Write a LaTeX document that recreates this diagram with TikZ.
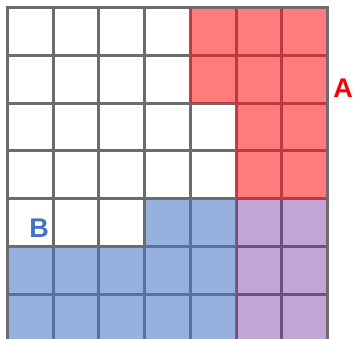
\documentclass[tikz,border=0pt]{standalone}
\usepackage{fontspec}
\setmainfont{Liberation Sans}
\usepackage{xcolor}
\usetikzlibrary{positioning}
\definecolor{gridgray}{HTML}{6C6C6C}
\definecolor{redfill}{HTML}{FF7B7C}
\definecolor{redline}{HTML}{BF3A3F}
\definecolor{bluefill}{HTML}{97B1DE}
\definecolor{blueline}{HTML}{5871A3}
\definecolor{purpfill}{HTML}{C3A6D8}
\definecolor{purpline}{HTML}{6C5182}
\definecolor{labblue}{HTML}{4472C4}

\begin{document}
\begin{tikzpicture}[x=1pt, y=-1pt,
    blankcell/.style={draw=gridgray, fill=white, line width=3pt},
    setlabel/.style={font=\fontsize{27}{32}\selectfont\bfseries, inner sep=0pt}]
  \useasboundingbox (0,0) rectangle (353,338);
  \clip (0,0) rectangle (353,338);
  \def\cw{45.7}
  \def\ch{47.8}
  % plain grid
  \foreach \i in {0,...,6} {
    \foreach \j in {0,...,6} {
      \draw[blankcell] (7.5+\i*\cw, 7.5+\j*\ch) rectangle ++(\cw,\ch);
    }
  }
  % set A, set B and their overlap
  \foreach \i/\j/\f/\l in {4/0/redfill/redline, 5/0/redfill/redline, 6/0/redfill/redline,
      4/1/redfill/redline, 5/1/redfill/redline, 6/1/redfill/redline,
      5/2/redfill/redline, 6/2/redfill/redline, 5/3/redfill/redline, 6/3/redfill/redline,
      3/4/bluefill/blueline, 4/4/bluefill/blueline,
      0/5/bluefill/blueline, 1/5/bluefill/blueline, 2/5/bluefill/blueline,
      3/5/bluefill/blueline, 4/5/bluefill/blueline,
      0/6/bluefill/blueline, 1/6/bluefill/blueline, 2/6/bluefill/blueline,
      3/6/bluefill/blueline, 4/6/bluefill/blueline,
      5/4/purpfill/purpline, 6/4/purpfill/purpline, 5/5/purpfill/purpline,
      6/5/purpfill/purpline, 5/6/purpfill/purpline, 6/6/purpfill/purpline} {
    \draw[fill=\f, draw=\l, line width=1.5pt]
      (7.5+\i*\cw+0.75, 7.5+\j*\ch+0.75) rectangle ++(\cw-1.5,\ch-1.5);
  }
  % outer frame
  \draw[gridgray, line width=3pt] (7.5,7.5) rectangle (7.5+7*\cw, 7.5+7*\ch);
  % labels
  \node[setlabel, red] (labA) at (343,88) {A};
  \node[setlabel, labblue] (labB) at (39,228) {B};
\end{tikzpicture}
\end{document}
